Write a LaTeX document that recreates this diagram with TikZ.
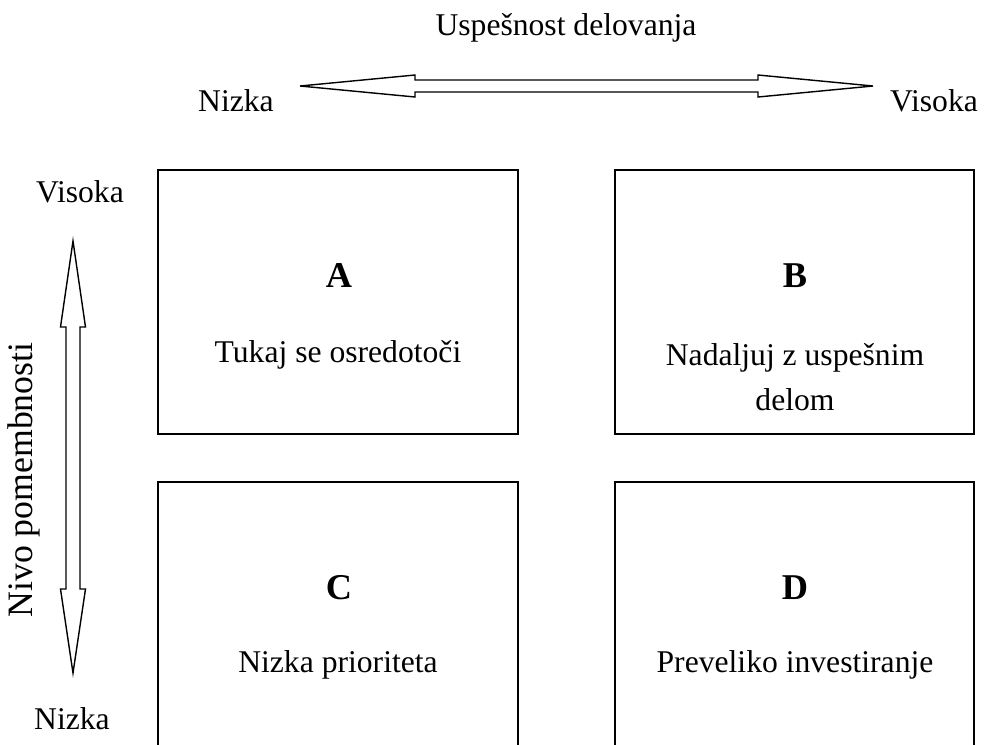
\documentclass[tikz,border=0pt]{standalone}
\usepackage{fontspec}
\setmainfont{Liberation Serif}
\tikzset{
  quadbox/.style={draw=black, line width=1.7pt},
  fatarrow/.style={draw=black, line width=1.2pt, fill=white, line join=miter},
  axislabel/.style={font=\fontsize{27}{32}\selectfont, inner sep=0pt},
  quadletter/.style={font=\fontsize{31}{36}\selectfont\bfseries, inner sep=0pt},
  quadtext/.style={font=\fontsize{27}{38}\selectfont, align=center, inner sep=0pt}
}

\begin{document}
\begin{tikzpicture}[x=0.03cm, y=-0.03cm]
  \clip (0,0) rectangle (986,744);
  % axes
  \node[axislabel] (perfT) at (566,28) {Uspešnost delovanja};
  \node[axislabel] (perfLo) at (236,101) {Nizka};
  \node[axislabel] (perfHi) at (934,101) {Visoka};
  \draw[fatarrow] (300,86) -- (415,75) -- (415,80) -- (758,80) -- (758,75) -- (873,86)
    -- (758,97) -- (758,92) -- (415,92) -- (415,97) -- cycle;
  \node[axislabel] (impHi) at (80,192) {Visoka};
  \node[axislabel] (impLo) at (72,719) {Nizka};
  \node[axislabel, font=\fontsize{30.5}{36}\selectfont, rotate=90] (impT) at (24,480) {Nivo pomembnosti};
  \draw[fatarrow] (73,241) -- (60.5,327) -- (66,327) -- (66,589) -- (60.5,589) -- (73,673)
    -- (85.5,589) -- (80,589) -- (80,327) -- (85.5,327) -- cycle;
  % quadrants
  \draw[quadbox] (158,170) rectangle (518,434);
  \draw[quadbox] (615,170) rectangle (974,434);
  \draw[quadbox] (158,482) rectangle (518,800);
  \draw[quadbox] (615,482) rectangle (974,800);
  \node[quadletter] (labA) at (339,276) {A};
  \node[quadtext] (txtA) at (338,355) {Tukaj se osredotoči};
  \node[quadletter] (labB) at (795,276) {B};
  \node[quadtext] (txtB) at (795,377) {Nadaljuj z uspešnim\\delom};
  \node[quadletter] (labC) at (339,588) {C};
  \node[quadtext] (txtC) at (338,665) {Nizka prioriteta};
  \node[quadletter] (labD) at (795,588) {D};
  \node[quadtext] (txtD) at (795,665) {Preveliko investiranje};
\end{tikzpicture}
\end{document}
